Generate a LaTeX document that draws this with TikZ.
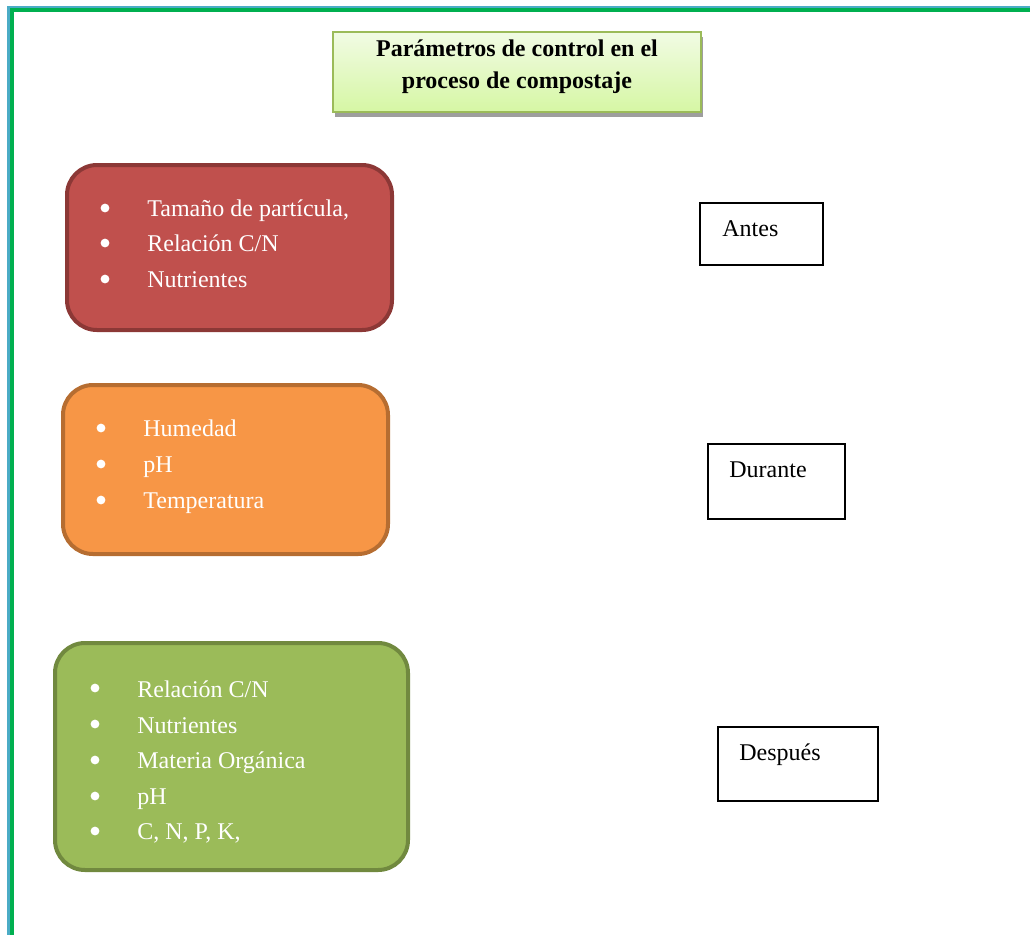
\documentclass[tikz,border=0pt]{standalone}
\usepackage{fontspec}
\setmainfont{Liberation Serif}
\usepackage{xcolor}
\usetikzlibrary{shadows,fit,backgrounds}
\pgfdeclarelayer{edgelayer}
\pgfdeclarelayer{nodelayer}
\pgfsetlayers{background,edgelayer,nodelayer,main}
\definecolor{redfill}{HTML}{C0504D}
\definecolor{redline}{HTML}{8C3836}
\definecolor{orangefill}{HTML}{F79646}
\definecolor{orangeline}{HTML}{B66D31}
\definecolor{greenfill}{HTML}{9BBB59}
\definecolor{greenline}{HTML}{71893F}
\definecolor{titletop}{HTML}{F1FBE4}
\definecolor{titlebottom}{HTML}{D6F7A4}
\definecolor{frameblue}{HTML}{4BACC6}
\definecolor{framegreen}{HTML}{00B050}
\tikzstyle{none}=[inner sep=0mm]
\tikzstyle{every picture}=[x=0.5pt,y=-0.5pt]
\tikzstyle{title}=[draw=greenfill,line width=1pt,shade,top color=titletop,bottom color=titlebottom,inner sep=0pt,drop shadow={shadow xshift=0.8pt,shadow yshift=-2.6pt,fill=black!38,opacity=1}]
\tikzstyle{titletext}=[none,align=center,font=\fontsize{12}{16}\selectfont\bfseries]
\tikzstyle{phase}=[rounded corners=15pt,line width=2pt,inner sep=0pt]
\tikzstyle{redbox}=[phase,fill=redfill,draw=redline]
\tikzstyle{orangebox}=[phase,fill=orangefill,draw=orangeline]
\tikzstyle{greenbox}=[phase,fill=greenfill,draw=greenline]
\tikzstyle{tag}=[draw=black,line width=0.8pt,inner sep=0pt]
\tikzstyle{item}=[none,anchor=base west,text=white,font=\fontsize{12}{14}\selectfont]
\tikzstyle{bullet}=[circle,fill=white,inner sep=0pt,minimum size=4.4pt]
\tikzstyle{word}=[none,anchor=base west,font=\fontsize{12}{14}\selectfont]

\begin{document}
\begin{tikzpicture}
	\useasboundingbox (0, 0) rectangle (1030, 934);
	\clip (0, 0) rectangle (1030, 934);
	\begin{pgfonlayer}{edgelayer}
		\draw [frameblue, line width=1.5pt] (8, 7) rectangle (1060, 960);
		\draw [framegreen, line width=2pt] (12, 10) rectangle (1060, 960);
	\end{pgfonlayer}
	\begin{pgfonlayer}{nodelayer}
		\node [style=title, fit={(333, 32) (701, 112)}] (head) {};
		\node [style=titletext] (headtext) at (517, 67) {Parámetros de control en el\\proceso de compostaje};

		\node [style=redbox, fit={(67, 165) (392, 330)}] (antesbox) {};
		\node [style=bullet] (b11) at (105, 208) {};
		\node [style=bullet] (b12) at (105, 243) {};
		\node [style=bullet] (b13) at (105, 279) {};
		\node [style=item] (i11) at (147, 216) {Tamaño de partícula,};
		\node [style=item] (i12) at (147, 251) {Relación C/N};
		\node [style=item] (i13) at (147, 287) {Nutrientes};

		\node [style=orangebox, fit={(63, 385) (388, 554)}] (durantebox) {};
		\node [style=bullet] (b21) at (101, 428) {};
		\node [style=bullet] (b22) at (101, 464) {};
		\node [style=bullet] (b23) at (101, 500) {};
		\node [style=item] (i21) at (143, 436) {Humedad};
		\node [style=item] (i22) at (143, 472) {pH};
		\node [style=item] (i23) at (143, 508) {Temperatura};

		\node [style=greenbox, fit={(55, 643) (408, 870)}] (despuesbox) {};
		\node [style=bullet] (b31) at (95, 688) {};
		\node [style=bullet] (b32) at (95, 724) {};
		\node [style=bullet] (b33) at (95, 760) {};
		\node [style=bullet] (b34) at (95, 796) {};
		\node [style=bullet] (b35) at (95, 831) {};
		\node [style=item] (i31) at (137, 697) {Relación C/N};
		\node [style=item] (i32) at (137, 733) {Nutrientes};
		\node [style=item] (i33) at (137, 768) {Materia Orgánica};
		\node [style=item] (i34) at (137, 804) {pH};
		\node [style=item] (i35) at (137, 839) {C, N, P, K,};

		\node [style=tag, fit={(700, 203) (823, 265)}] (antes) {};
		\node [style=word] (antestext) at (722, 236) {Antes};
		\node [style=tag, fit={(708, 444) (845, 519)}] (durante) {};
		\node [style=word] (durantetext) at (729, 477) {Durante};
		\node [style=tag, fit={(718, 727) (878, 801)}] (despues) {};
		\node [style=word] (despuestext) at (739, 760) {Después};
	\end{pgfonlayer}
\end{tikzpicture}
\end{document}
